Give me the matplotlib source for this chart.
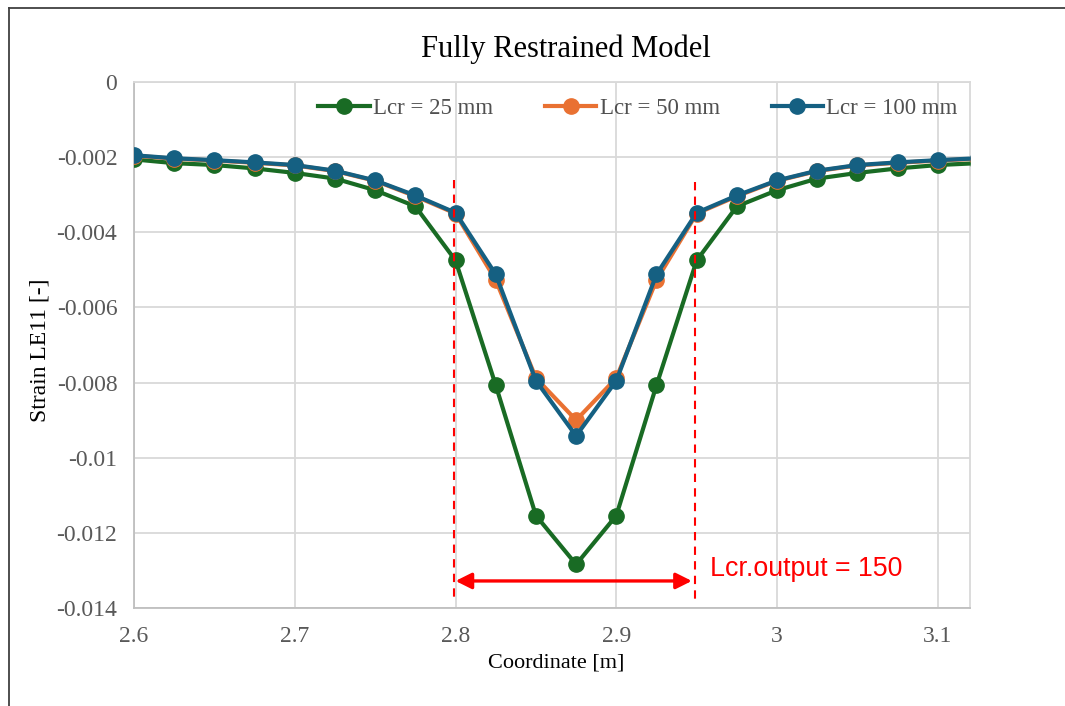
import matplotlib
matplotlib.use("Agg")
import matplotlib.pyplot as plt
from matplotlib.lines import Line2D

# Coordinates along the member [m]
coord = [2.6, 2.625, 2.65, 2.675, 2.7, 2.725, 2.75, 2.775, 2.8, 2.825, 2.85, 2.875,
         2.9, 2.925, 2.95, 2.975, 3.0, 3.025, 3.05, 3.075, 3.1, 3.125]

# Strain LE11 for each crack band length
lcr25 = [-0.00206, -0.00216, -0.00221, -0.00230, -0.00242, -0.00257, -0.00288, -0.00331,
         -0.00475, -0.00807, -0.01154, -0.01284, -0.01154, -0.00807, -0.00475, -0.00331,
         -0.00288, -0.00257, -0.00242, -0.00230, -0.00221, -0.00216]
lcr50 = [-0.00196, -0.00204, -0.00209, -0.00215, -0.00222, -0.00237, -0.00263, -0.00304,
         -0.00350, -0.00527, -0.00788, -0.00900, -0.00788, -0.00527, -0.00350, -0.00304,
         -0.00263, -0.00237, -0.00222, -0.00215, -0.00209, -0.00204]
lcr100 = [-0.00195, -0.00203, -0.00208, -0.00214, -0.00221, -0.00236, -0.00262, -0.00302,
          -0.00348, -0.00512, -0.00795, -0.00942, -0.00795, -0.00512, -0.00348, -0.00302,
          -0.00262, -0.00236, -0.00221, -0.00214, -0.00208, -0.00203]

series_labels = ["Lcr = 25 mm", "Lcr = 50 mm", "Lcr = 100 mm"]
x_ticks = [2.6, 2.7, 2.8, 2.9, 3.0, 3.1]
x_tick_labels = ["2.6", "2.7", "2.8", "2.9", "3", "3.1"]
y_ticks = [0, -0.002, -0.004, -0.006, -0.008, -0.01, -0.012, -0.014]
y_tick_labels = ["0", "-0.002", "-0.004", "-0.006", "-0.008", "-0.01", "-0.012", "-0.014"]

# Crack band output zone
zone_start = 2.799
zone_end = 2.949
zone_label = "Lcr.output = 150"

plt.rcParams["font.family"] = ["Liberation Serif", "DejaVu Serif"]

W, H = 1065, 706
fig = plt.figure(figsize=(W / 100, H / 100), dpi=100)
ax = fig.add_axes([134 / W, 1 - 608 / H, (970 - 134) / W, (608 - 82) / H])

colors = ["#196B24", "#E97132", "#156082"]
for ys, c, lab in zip([lcr25, lcr50, lcr100], colors, series_labels):
    ax.plot(coord, ys, color=c, lw=3, marker="o", ms=11, label=lab, zorder=3)

ax.set_xlim(2.6, 3.12)
ax.set_ylim(-0.014, 0)
ax.set_xticks(x_ticks)
ax.set_xticklabels(x_tick_labels)
ax.set_yticks(y_ticks)
ax.set_yticklabels(y_tick_labels)
ax.tick_params(length=0, labelsize=17, labelcolor="#595959")
ax.tick_params(axis="x", pad=13)
ax.tick_params(axis="y", pad=12)
ax.grid(True, color="#d9d9d9", lw=1.3, zorder=0)
ax.set_axisbelow(True)
for side, sp in ax.spines.items():
    sp.set_color("#d9d9d9")
    sp.set_linewidth(1.3)
ax.spines["left"].set_color("#bfbfbf")
ax.spines["bottom"].set_color("#bfbfbf")

# Titles
fig.text(566 / W, 1 - 49 / H, "Fully Restrained Model", fontsize=22, color="black",
         ha="center", va="center")
fig.text(556 / W, 1 - 663 / H, "Coordinate [m]", fontsize=16, color="black",
         ha="center", va="center")
fig.text(40 / W, 1 - 350 / H, "Strain LE11 [-]", fontsize=17, color="black",
         ha="center", va="center", rotation=90)

leg = fig.legend(*ax.get_legend_handles_labels(), loc="center",
                 bbox_to_anchor=(638 / W, 1 - 108 / H), ncol=3, frameon=False,
                 fontsize=16.5, handlelength=2.25, columnspacing=2.25, handletextpad=0.15,
                 borderpad=0, borderaxespad=0)
for t in leg.get_texts():
    t.set_color("#505050")

# Output zone markers
ax.plot([zone_start, zone_start], [-0.0026, -0.01375], color="red", lw=1.5, ls=(0, (4, 3)), zorder=4)
ax.plot([zone_end, zone_end], [-0.00265, -0.0138], color="red", lw=1.5, ls=(0, (4, 3)), zorder=4)
ax.annotate("", xy=(zone_start + 0.001, -0.01328), xytext=(zone_end - 0.002, -0.01328),
            arrowprops=dict(arrowstyle="<|-|>", color="red", lw=2.4, mutation_scale=24,
                            shrinkA=0, shrinkB=0), zorder=5)
ax.text(2.958, -0.01296, zone_label, color="red", fontsize=19.3,
        family=["Liberation Sans", "DejaVu Sans"], ha="left", va="center", zorder=5)

# Outer chart frame (top and left edges)
fig.add_artist(Line2D([9 / W, 1], [1 - 8 / H, 1 - 8 / H], transform=fig.transFigure, color="#404040", lw=1.3))
fig.add_artist(Line2D([9 / W, 9 / W], [0, 1 - 8 / H], transform=fig.transFigure, color="#404040", lw=1.3))

fig.savefig("out.png", dpi=100)
